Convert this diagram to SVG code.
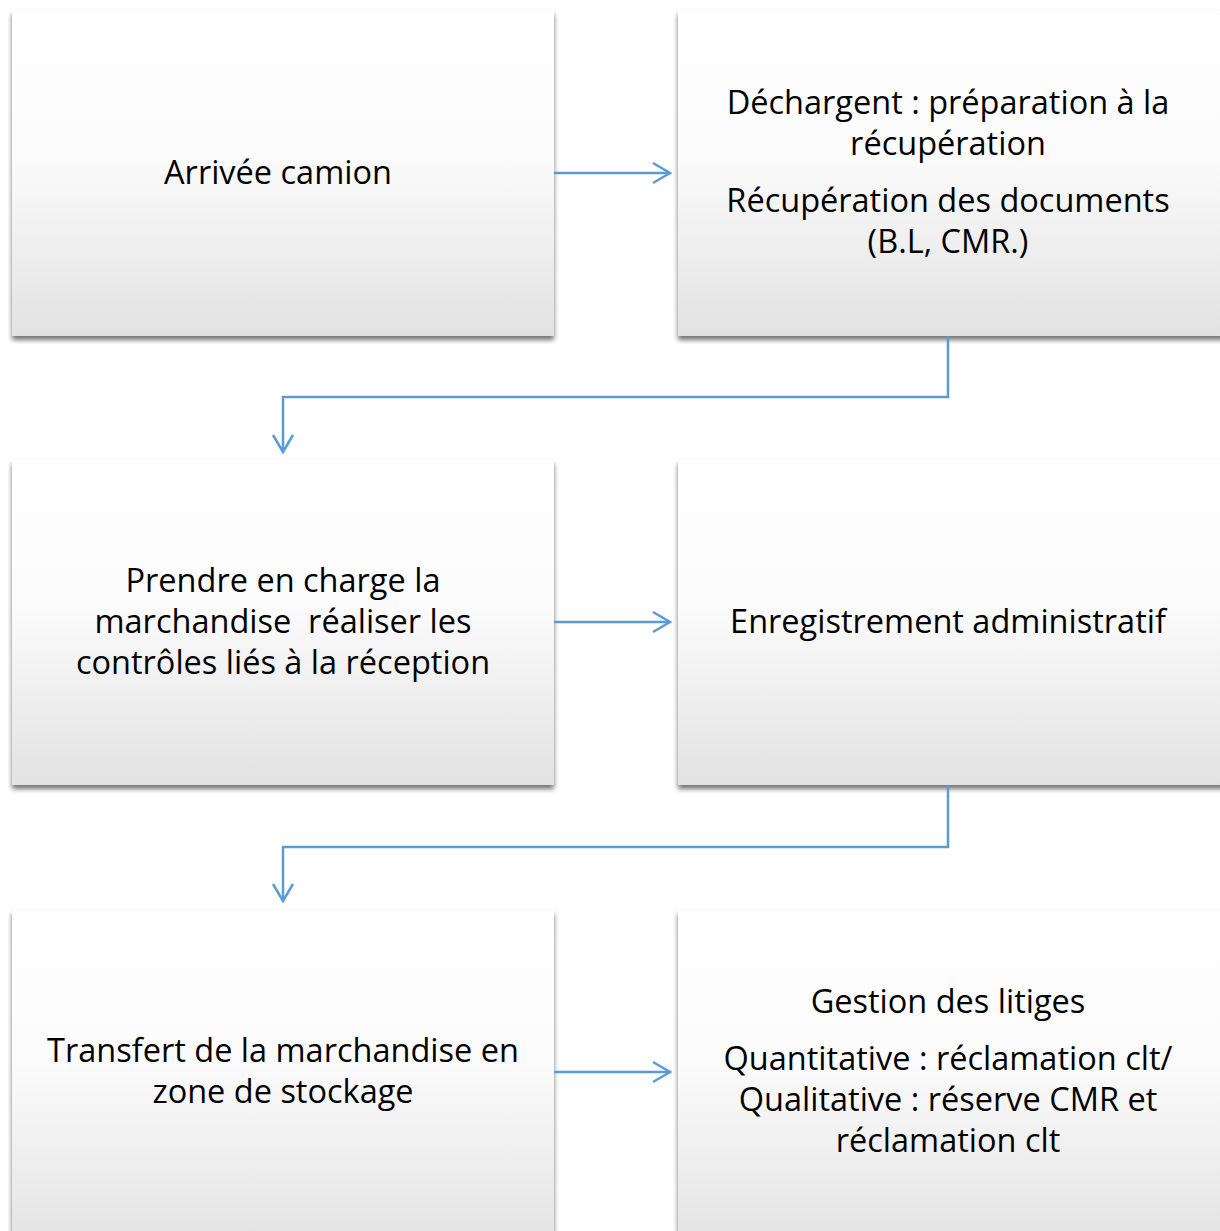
<svg xmlns="http://www.w3.org/2000/svg" width="1220" height="1231" viewBox="0 0 1220 1231">
<defs>
<linearGradient id="g" x1="0" y1="0" x2="0" y2="1">
<stop offset="0" stop-color="#ffffff"/>
<stop offset="0.45" stop-color="#fbfbfb"/>
<stop offset="1" stop-color="#e2e2e2"/>
</linearGradient>
<filter id="sh" x="-5%" y="-5%" width="110%" height="115%">
<feGaussianBlur in="SourceAlpha" stdDeviation="2.5"/>
<feOffset dy="4" result="b"/>
<feFlood flood-color="#000" flood-opacity="0.55"/>
<feComposite in2="b" operator="in"/>
<feMerge><feMergeNode/><feMergeNode in="SourceGraphic"/></feMerge>
</filter>
<marker id="ah" markerWidth="24" markerHeight="24" refX="20" refY="12" orient="auto" markerUnits="userSpaceOnUse">
<path d="M3,2 L20,12 L3,22" fill="none" stroke="#5b9bd5" stroke-width="2.5"/>
</marker>
<style>
.box{fill:url(#g);filter:url(#sh)}
.t{font-family:"Open Sans","Liberation Sans",sans-serif;font-size:32.5px;fill:#000;text-anchor:middle;white-space:pre}
.c{fill:none;stroke:#5b9bd5;stroke-width:2.5}
</style>
</defs>
<rect width="1220" height="1231" fill="#fff"/>
<g id="n1"><rect class="box" x="12" y="10" width="542" height="326"/><text class="t" x="278" y="184">Arrivée camion</text></g>
<g id="n2"><rect class="box" x="678" y="10" width="550" height="326"/>
<text class="t" x="948" y="114">Déchargent : préparation à la</text>
<text class="t" x="948" y="155">récupération</text>
<text class="t" x="948" y="212">Récupération des documents</text>
<text class="t" x="948" y="253">(B.L, CMR.)</text></g>
<g id="n3"><rect class="box" x="12" y="460" width="542" height="325"/>
<text class="t" x="283" y="592">Prendre en charge la</text>
<text class="t" x="283" y="633" xml:space="preserve">marchandise  réaliser les</text>
<text class="t" x="283" y="674">contrôles liés à la réception</text></g>
<g id="n4"><rect class="box" x="678" y="460" width="550" height="325"/>
<text class="t" x="948" y="633">Enregistrement administratif</text></g>
<g id="n5"><rect class="box" x="12" y="910" width="542" height="340"/>
<text class="t" x="283" y="1062">Transfert de la marchandise en</text>
<text class="t" x="283" y="1103">zone de stockage</text></g>
<g id="n6"><rect class="box" x="678" y="910" width="550" height="340"/>
<text class="t" x="948" y="1013">Gestion des litiges</text>
<text class="t" x="948" y="1070">Quantitative : réclamation clt/</text>
<text class="t" x="948" y="1111">Qualitative : réserve CMR et</text>
<text class="t" x="948" y="1152">réclamation clt</text></g>
<g id="connectors">
<path class="c" d="M554,173 H670" marker-end="url(#ah)"/>
<path class="c" d="M948,336 V397 H283 V452" marker-end="url(#ah)"/>
<path class="c" d="M554,622 H670" marker-end="url(#ah)"/>
<path class="c" d="M948,785 V847 H283 V901" marker-end="url(#ah)"/>
<path class="c" d="M554,1072 H670" marker-end="url(#ah)"/>
</g>
</svg>
